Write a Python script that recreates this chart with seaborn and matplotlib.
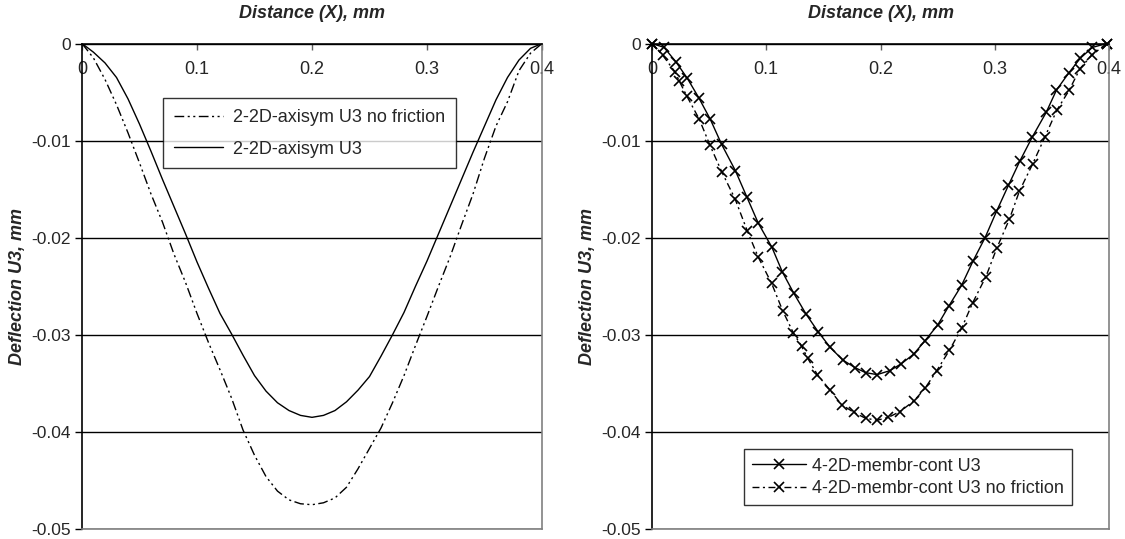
import numpy as np
import pandas as pd
import matplotlib
matplotlib.use("Agg")
import matplotlib.pyplot as plt
import seaborn as sns

# ---------------- data ----------------
x_axisym = [0.00, 0.01, 0.02, 0.03, 0.04, 0.05, 0.06, 0.07, 0.08, 0.09, 0.10,
            0.11, 0.12, 0.13, 0.14, 0.15, 0.16, 0.17, 0.18, 0.19, 0.20,
            0.21, 0.22, 0.23, 0.24, 0.25, 0.26, 0.27, 0.28, 0.29, 0.30,
            0.31, 0.32, 0.33, 0.34, 0.35, 0.36, 0.37, 0.38, 0.39, 0.40]
u3_axisym = [0.0, -0.0009, -0.0020, -0.0035, -0.0057, -0.0083, -0.0111, -0.0140, -0.0168, -0.0196, -0.0225,
             -0.0252, -0.0278, -0.0299, -0.0321, -0.0342, -0.0358, -0.0370, -0.0378, -0.0383, -0.0385,
             -0.0383, -0.0378, -0.0369, -0.0357, -0.0343, -0.0322, -0.0300, -0.0277, -0.0250, -0.0224,
             -0.0196, -0.0168, -0.0140, -0.0112, -0.0085, -0.0058, -0.0035, -0.0017, -0.0005, 0.0]
u3_axisym_nofric = [0.0, -0.0015, -0.0037, -0.0063, -0.0092, -0.0123, -0.0155, -0.0184, -0.0217, -0.0246, -0.0278,
                    -0.0308, -0.0336, -0.0365, -0.0398, -0.0424, -0.0446, -0.0461, -0.0470, -0.0474, -0.0475,
                    -0.0473, -0.0468, -0.0457, -0.0438, -0.0417, -0.0396, -0.0370, -0.0342, -0.0311, -0.0281,
                    -0.0250, -0.0220, -0.0187, -0.0155, -0.0118, -0.0085, -0.0060, -0.0028, -0.0010, 0.0]

x_membr = [0.0, 0.0105, 0.021, 0.031, 0.041, 0.051, 0.061, 0.073, 0.083, 0.093,
           0.105, 0.114, 0.124, 0.135, 0.1455, 0.156, 0.167, 0.178, 0.187, 0.197,
           0.208, 0.218, 0.229, 0.239, 0.250, 0.260, 0.271, 0.281, 0.2915, 0.3015,
           0.312, 0.322, 0.333, 0.345, 0.354, 0.365, 0.375, 0.3855, 0.398]
u3_membr = [0.0, -0.0004, -0.0019, -0.0036, -0.0056, -0.0078, -0.0104, -0.0131, -0.0158, -0.0185,
            -0.0210, -0.0235, -0.0257, -0.0279, -0.0297, -0.0313, -0.0326, -0.0334, -0.0339, -0.0341,
            -0.0337, -0.0330, -0.0320, -0.0306, -0.0290, -0.0270, -0.0249, -0.0224, -0.0200, -0.0173,
            -0.0146, -0.0121, -0.0096, -0.0071, -0.0048, -0.0030, -0.0015, -0.0004, 0.0]

x_membr_nofric = [0.0, 0.0093, 0.020, 0.024, 0.0304, 0.0414, 0.0508, 0.061, 0.0727, 0.0834,
                  0.093, 0.1047, 0.1143, 0.1237, 0.131, 0.1362, 0.1447, 0.1558, 0.166, 0.1768,
                  0.187, 0.197, 0.207, 0.2171, 0.2294, 0.239, 0.2492, 0.2603, 0.2711, 0.2807,
                  0.2923, 0.3017, 0.3128, 0.3216, 0.3332, 0.344, 0.3542, 0.3652, 0.3746, 0.3848, 0.398]
u3_membr_nofric = [0.0, -0.0012, -0.0029, -0.0039, -0.0054, -0.0078, -0.0105, -0.0132, -0.0160, -0.0193,
                   -0.0220, -0.0247, -0.0275, -0.0298, -0.0312, -0.0324, -0.0341, -0.0357, -0.0372, -0.0380,
                   -0.0386, -0.0388, -0.0385, -0.0379, -0.0368, -0.0355, -0.0337, -0.0316, -0.0293, -0.0267,
                   -0.0240, -0.0211, -0.0181, -0.0152, -0.0124, -0.0096, -0.0069, -0.0048, -0.0026, -0.0012, 0.0]

x_ticks = [0.0, 0.1, 0.2, 0.3, 0.4]
x_ticklabels = ["0", "0.1", "0.2", "0.3", "0.4"]
y_ticks = [0.0, -0.01, -0.02, -0.03, -0.04, -0.05]
y_ticklabels = ["0", "-0.01", "-0.02", "-0.03", "-0.04", "-0.05"]

x_label = "Distance (X), mm"
y_label = "Deflection U3, mm"
lbl_axisym_nf = "2-2D-axisym U3 no friction"
lbl_axisym = "2-2D-axisym U3"
lbl_membr = "4-2D-membr-cont U3"
lbl_membr_nf = "4-2D-membr-cont U3 no friction"

# ---------------- style ----------------
sns.set_style("white")
plt.rcParams["font.family"] = ["Liberation Sans", "DejaVu Sans"]
plt.rcParams["font.size"] = 13

FS = 13
fig = plt.figure(figsize=(11.25, 5.39), dpi=100)
ax_bottom = 10 / 539
ax_height = 485.5 / 539
ax1 = fig.add_axes([82 / 1125, ax_bottom, 460 / 1125, ax_height])
ax2 = fig.add_axes([652 / 1125, ax_bottom, 457 / 1125, ax_height])

LW = 1.0
dashdotdot = (0, (7, 2.5, 1.5, 2.5, 1.5, 2.5))
dashdot = (0, (5, 2.5, 1.5, 2.5))

# left panel
sns.lineplot(x=x_axisym, y=u3_axisym_nofric, ax=ax1, color="black", lw=LW,
             linestyle=dashdotdot, label=lbl_axisym_nf, sort=False)
sns.lineplot(x=x_axisym, y=u3_axisym, ax=ax1, color="black", lw=LW,
             linestyle="-", label=lbl_axisym, sort=False)

# right panel
sns.lineplot(x=x_membr, y=u3_membr, ax=ax2, color="black", lw=LW, linestyle="-",
             marker="x", markersize=7.5, markeredgewidth=1.2, markeredgecolor="black",
             label=lbl_membr, sort=False, clip_on=False)
sns.lineplot(x=x_membr_nofric, y=u3_membr_nofric, ax=ax2, color="black", lw=LW,
             linestyle=dashdot, marker="x", markersize=7.5, markeredgewidth=1.2,
             markeredgecolor="black", label=lbl_membr_nf, sort=False, clip_on=False)

for ax in (ax1, ax2):
    ax.set_xlim(0, 0.4)
    ax.set_ylim(-0.05, 0)
    ax.set_xticks(x_ticks)
    ax.set_xticklabels(x_ticklabels)
    ax.set_yticks(y_ticks)
    ax.set_yticklabels(y_ticklabels)
    ax.xaxis.set_ticks_position("top")
    ax.xaxis.set_label_position("top")
    ax.tick_params(axis="x", top=True, bottom=False, labeltop=True, labelbottom=False,
                   direction="in", length=4, width=1, color="#606060", pad=-25, labelsize=FS)
    ax.tick_params(axis="y", left=True, direction="out", length=5, width=1,
                   color="black", pad=3, labelsize=12.5)
    ax.set_xlabel(x_label, fontsize=FS, fontweight="bold", fontstyle="italic", labelpad=18)
    ax.set_ylabel(y_label, fontsize=FS, fontweight="bold", fontstyle="italic", labelpad=4)
    ax.yaxis.grid(True, color="black", lw=1.0)
    ax.xaxis.grid(False)
    ax.set_axisbelow(True)
    ax.spines["top"].set_color("black")
    ax.spines["top"].set_linewidth(1.2)
    ax.spines["left"].set_color("black")
    ax.spines["left"].set_linewidth(1.2)
    ax.spines["right"].set_color("#808080")
    ax.spines["bottom"].set_color("#808080")
    ax.spines["right"].set_linewidth(1.2)
    ax.spines["bottom"].set_linewidth(1.2)

leg1 = ax1.legend(loc="upper left", bbox_to_anchor=(0.176, 0.887), borderaxespad=0,
                  frameon=True, fancybox=False, edgecolor="black", fontsize=FS,
                  handlelength=2.7, labelspacing=0.8, borderpad=0.6, handletextpad=0.6)
leg1.get_frame().set_linewidth(1.0)
leg2 = ax2.legend(loc="upper left", bbox_to_anchor=(0.201, 0.164), borderaxespad=0,
                  frameon=True, fancybox=False, edgecolor="black", fontsize=FS,
                  handlelength=3.0, labelspacing=0.3, borderpad=0.45, handletextpad=0.35)
leg2.get_frame().set_linewidth(1.0)

fig.savefig("out.png", dpi=100, facecolor="white")
